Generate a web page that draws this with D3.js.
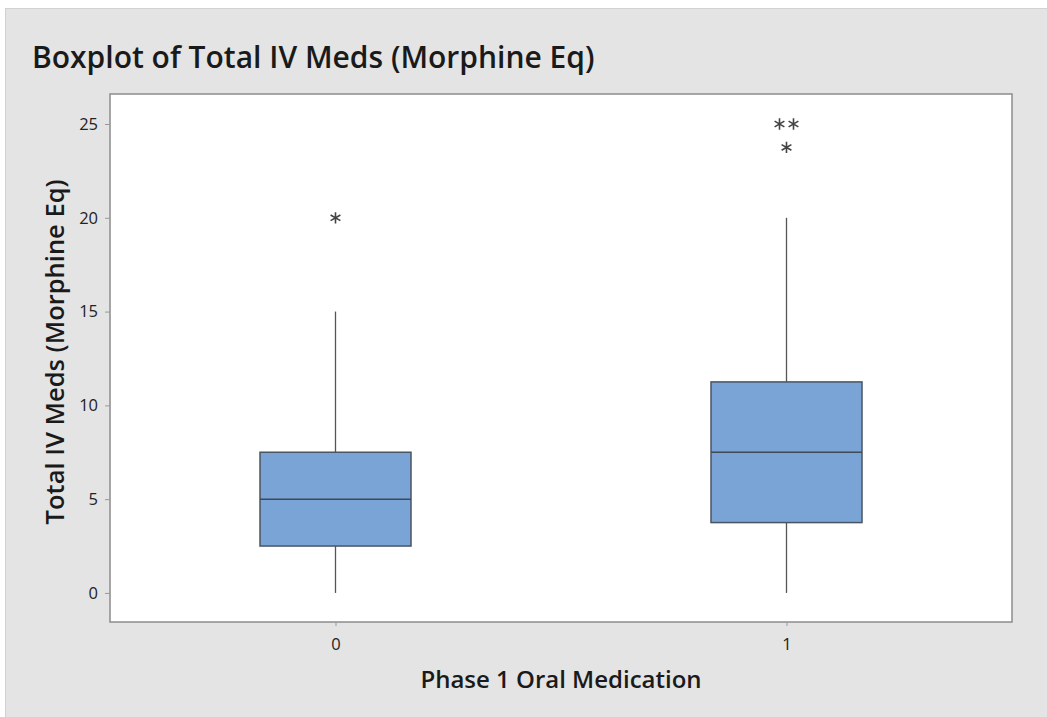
<!DOCTYPE html>
<html>
<head>
<meta charset="utf-8">
<script src="https://cdn.jsdelivr.net/npm/d3@7"></script>
<style>
  body { margin: 0; background: #fff; }
  text { font-family: "Open Sans", "DejaVu Sans", sans-serif; }
</style>
</head>
<body>
<div id="plot"></div>
<script>
// data
var groups = ["0", "1"];
var q1 = [2.5, 3.75];
var medians = [5, 7.5];
var q3 = [7.5, 11.25];
var whiskLow = [0, 0];
var whiskHigh = [15, 20];
var outliers = [[20], [25, 25, 23.75]];
var yTicks = [0, 5, 10, 15, 20, 25];

var W = 1047, H = 717;
var margin = {top: 94, right: 35, bottom: 95, left: 110};
var width = W - margin.left - margin.right;
var height = H - margin.top - margin.bottom;

var svg = d3.select("#plot").append("svg")
	.attr("width", W)
	.attr("height", H);

svg.append("rect")
	.attr("x", 5.5).attr("y", 8.5)
	.attr("width", W - 5).attr("height", H - 8)
	.style("fill", "#e4e4e4")
	.style("stroke", "#d2d2d2");

svg.append("text")
	.attr("x", 32).attr("y", 68)
	.style("font-size", "30px")
	.style("font-weight", 600)
	.style("fill", "#1a1a1a")
	.text("Boxplot of Total IV Meds (Morphine Eq)");

var g = svg.append("g")
	.attr("transform", "translate(" + margin.left + "," + margin.top + ")");

var x = d3.scalePoint().domain(groups).range([0, width]).padding(0.5);
var y = d3.scaleLinear().domain([-1.55, 26.6]).range([height, 0]);

g.append("rect")
	.attr("width", width).attr("height", height)
	.style("fill", "#fff")
	.style("stroke", "#8c8c8c")
	.style("stroke-width", 1.5);

var yAx = g.append("g")
	.call(d3.axisLeft(y).tickValues(yTicks).tickSize(5).tickPadding(7));
var xAx = g.append("g")
	.attr("transform", "translate(0," + height + ")")
	.call(d3.axisBottom(x).tickSize(4).tickPadding(12));
[yAx, xAx].forEach(function(a) {
	a.select(".domain").remove();
	a.selectAll("line").style("stroke", "#999");
	a.selectAll("text").style("font-size", "16.5px").style("fill", "#222")
		.style("font-family", "'Open Sans', sans-serif");
});

var boxW = 151;
var data = groups.map(function(d, i) {
	return {g: d, q1: q1[i], med: medians[i], q3: q3[i], lo: whiskLow[i], hi: whiskHigh[i], out: outliers[i]};
});

var box = g.selectAll(".box").data(data).enter().append("g").attr("class", "box");

box.append("line")
	.attr("x1", function(d) { return x(d.g); })
	.attr("x2", function(d) { return x(d.g); })
	.attr("y1", function(d) { return y(d.hi); })
	.attr("y2", function(d) { return y(d.q3); })
	.style("stroke", "#555")
	.style("stroke-width", 1.3);
box.append("line")
	.attr("x1", function(d) { return x(d.g); })
	.attr("x2", function(d) { return x(d.g); })
	.attr("y1", function(d) { return y(d.q1); })
	.attr("y2", function(d) { return y(d.lo); })
	.style("stroke", "#555")
	.style("stroke-width", 1.3);

box.append("rect")
	.attr("x", function(d) { return x(d.g) - boxW / 2; })
	.attr("y", function(d) { return y(d.q3); })
	.attr("width", boxW)
	.attr("height", function(d) { return y(d.q1) - y(d.q3); })
	.style("fill", "#7aa3d6")
	.style("stroke", "#4a5563")
	.style("stroke-width", 1.5);

box.append("line")
	.attr("x1", function(d) { return x(d.g) - boxW / 2; })
	.attr("x2", function(d) { return x(d.g) + boxW / 2; })
	.attr("y1", function(d) { return y(d.med); })
	.attr("y2", function(d) { return y(d.med); })
	.style("stroke", "#3f4a57")
	.style("stroke-width", 1.5);

// outliers, repeated values are set side by side
var pts = [];
data.forEach(function(d) {
	var seen = {};
	d.out.forEach(function(v) {
		var n = d.out.filter(function(u) { return u === v; }).length;
		seen[v] = (seen[v] || 0) + 1;
		pts.push({g: d.g, v: v, off: (seen[v] - 1 - (n - 1) / 2) * 14});
	});
});

var star = d3.symbol().type(d3.symbolAsterisk).size(90);
g.selectAll(".out").data(pts).enter().append("path")
	.attr("class", "out")
	.attr("d", star)
	.attr("transform", function(d) { return "translate(" + (x(d.g) + d.off) + "," + y(d.v) + ")"; })
	.style("fill", "none")
	.style("stroke", "#444")
	.style("stroke-width", 1.6);

svg.append("text")
	.attr("x", margin.left + width / 2)
	.attr("y", 688)
	.attr("text-anchor", "middle")
	.style("font-size", "24px")
	.style("font-weight", 600)
	.style("fill", "#1a1a1a")
	.text("Phase 1 Oral Medication");

svg.append("text")
	.attr("transform", "translate(64," + (margin.top + y(12.85)) + ") rotate(-90)")
	.attr("text-anchor", "middle")
	.style("font-size", "25.5px")
	.style("font-weight", 600)
	.style("fill", "#1a1a1a")
	.text("Total IV Meds (Morphine Eq)");
</script>
</body>
</html>
